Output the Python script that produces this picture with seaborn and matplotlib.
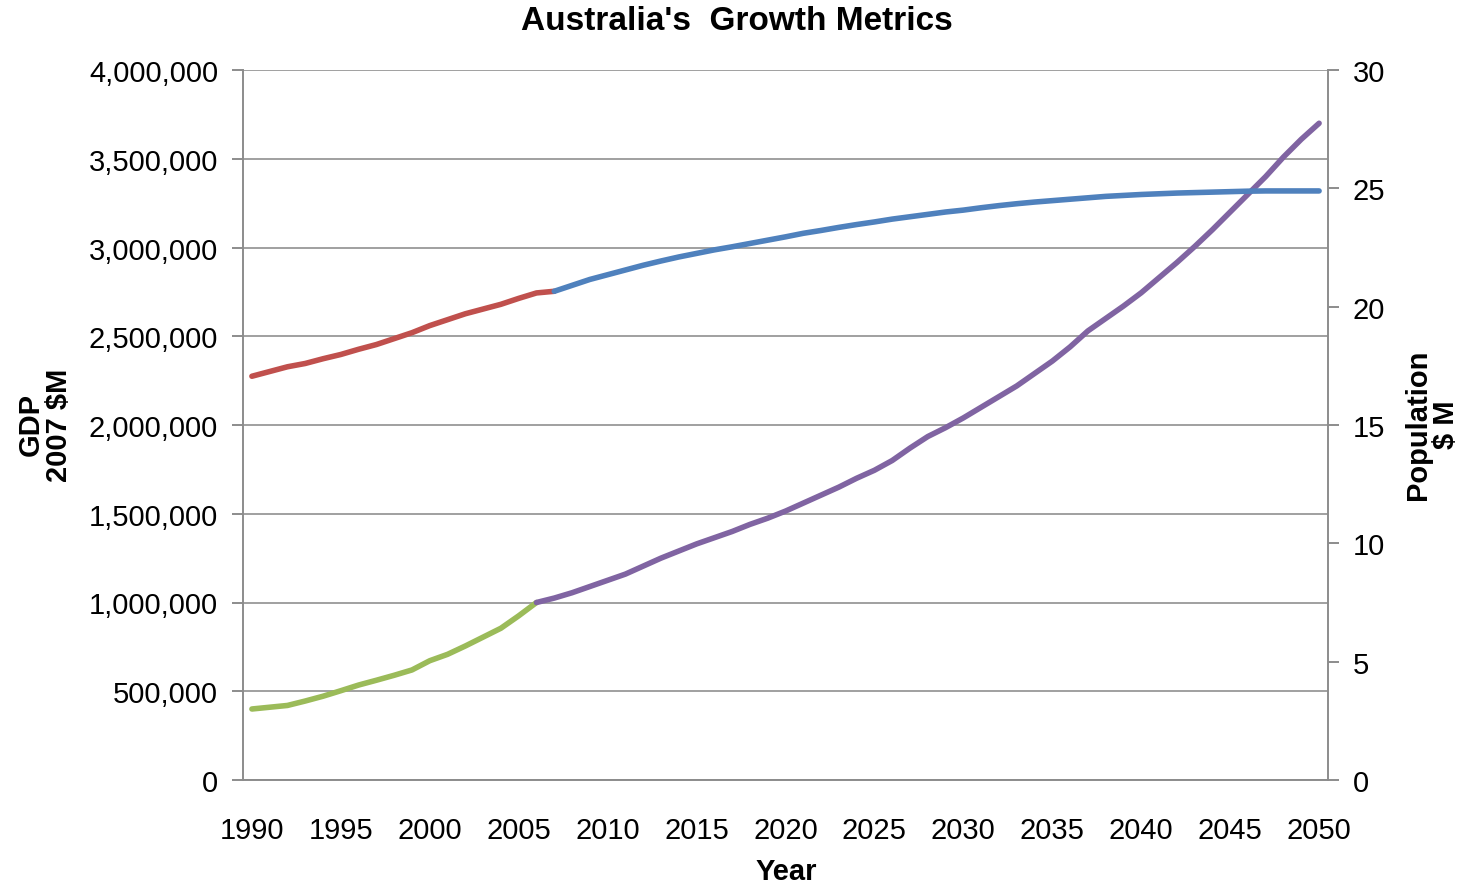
import matplotlib
matplotlib.use("Agg")
import matplotlib.pyplot as plt
import numpy as np
import pandas as pd
import seaborn as sns
from matplotlib.ticker import FixedLocator, FuncFormatter

# ---------------- data ----------------
pop_hist_years = list(range(1990, 2008))
pop_hist = [17.06, 17.26, 17.46, 17.60, 17.80, 17.98, 18.20, 18.40, 18.65,
            18.90, 19.20, 19.45, 19.70, 19.90, 20.10, 20.35, 20.58, 20.65]

pop_proj_years = list(range(2007, 2051))
pop_proj = [20.65, 20.90, 21.15, 21.35, 21.55, 21.75, 21.93, 22.10, 22.25, 22.40,
            22.53, 22.67, 22.81, 22.95, 23.10, 23.22, 23.35, 23.47, 23.58, 23.70,
            23.80, 23.90, 24.00, 24.08, 24.18, 24.27, 24.35, 24.42, 24.48, 24.54,
            24.60, 24.66, 24.70, 24.74, 24.77, 24.80, 24.82, 24.84, 24.86, 24.88,
            24.89, 24.89, 24.89, 24.89]

gdp_hist_years = list(range(1990, 2007))
gdp_hist = [400000, 410000, 420000, 445000, 472000, 503000, 535000, 562000, 590000,
            620000, 672000, 708000, 755000, 805000, 855000, 925000, 1000000]

gdp_proj_years = list(range(2006, 2051))
gdp_proj = [1000000, 1025000, 1055000, 1090000, 1125000, 1160000, 1205000, 1250000,
            1290000, 1330000, 1365000, 1400000, 1440000, 1475000, 1515000, 1560000,
            1605000, 1650000, 1700000, 1745000, 1800000, 1870000, 1935000, 1985000,
            2040000, 2100000, 2160000, 2220000, 2290000, 2360000, 2440000, 2530000,
            2600000, 2670000, 2745000, 2830000, 2915000, 3005000, 3100000, 3200000,
            3300000, 3400000, 3510000, 3610000, 3700000]

year_labels = list(range(1990, 2051, 5))
gdp_ticks = list(range(0, 4000001, 500000))
pop_ticks = list(range(0, 31, 5))

# ---------------- style ----------------
sns.set_theme(style="white")
plt.rcParams["font.family"] = ["Liberation Sans", "DejaVu Sans"]
plt.rcParams["text.color"] = "black"
plt.rcParams["axes.labelcolor"] = "black"
plt.rcParams["xtick.color"] = "black"
plt.rcParams["ytick.color"] = "black"

RED = "#C0504D"
BLUE = "#4F81BD"
GREEN = "#9BBB59"
PURPLE = "#8064A2"
GRID = "#A0A0A0"
AXC = "#8C8C8C"
FS = 21

fig = plt.figure(figsize=(14.68, 8.87), dpi=100)
ax = fig.add_axes([243 / 1468, 1 - 781 / 887, (1328 - 243) / 1468, (781 - 71) / 887])
ax2 = ax.twinx()

df_gh = pd.DataFrame({"Year": gdp_hist_years, "GDP": gdp_hist})
df_gp = pd.DataFrame({"Year": gdp_proj_years, "GDP": gdp_proj})
df_ph = pd.DataFrame({"Year": pop_hist_years, "Pop": pop_hist})
df_pp = pd.DataFrame({"Year": pop_proj_years, "Pop": pop_proj})

lw = 4.0
sns.lineplot(data=df_gh, x="Year", y="GDP", ax=ax, color=GREEN, lw=lw,
             solid_capstyle="round", solid_joinstyle="round", errorbar=None)
sns.lineplot(data=df_gp, x="Year", y="GDP", ax=ax, color=PURPLE, lw=lw,
             solid_capstyle="round", solid_joinstyle="round", errorbar=None)
sns.lineplot(data=df_ph, x="Year", y="Pop", ax=ax2, color=RED, lw=lw,
             solid_capstyle="round", solid_joinstyle="round", errorbar=None)
sns.lineplot(data=df_pp, x="Year", y="Pop", ax=ax2, color=BLUE, lw=lw,
             solid_capstyle="round", solid_joinstyle="round", errorbar=None)

# axes limits
ax.set_xlim(1989.5, 2050.5)
ax.set_ylim(0, 4000000)
ax2.set_ylim(0, 30)

# grid
ax.set_yticks(gdp_ticks)
ax.yaxis.grid(True, color=GRID, lw=1.4)
ax.xaxis.grid(False)
ax2.grid(False)
ax.set_axisbelow(True)

ax.yaxis.set_major_formatter(FuncFormatter(lambda v, p: f"{int(v):,}"))
ax2.set_yticks(pop_ticks)

# x ticks: labels at category centres, tick marks at category boundaries
ax.xaxis.set_major_locator(FixedLocator(year_labels))
ax.xaxis.set_minor_locator(FixedLocator([y - 0.5 for y in year_labels]))
ax.tick_params(axis="x", which="major", length=0, labelsize=FS, pad=26, labelcolor="black")
ax.tick_params(axis="x", which="minor", length=8, width=1.4, color=AXC, direction="out")
ax.tick_params(axis="y", which="major", length=8, width=1.4, color=AXC, labelsize=FS,
               pad=10, labelcolor="black", direction="out")
ax2.tick_params(axis="y", which="major", length=8, width=1.4, color=AXC, labelsize=FS,
                pad=10, labelcolor="black", direction="out")

for a in (ax, ax2):
    for s in a.spines.values():
        s.set_visible(False)
    a.set_xlabel("")
    a.set_ylabel("")
for a, side in ((ax, "left"), (ax, "bottom"), (ax2, "right")):
    a.spines[side].set_visible(True)
    a.spines[side].set_color(AXC)
    a.spines[side].set_linewidth(1.4)

# labels
fig.suptitle("Australia's  Growth Metrics", x=0.502, y=1 - 22 / 887, va="center",
             fontsize=24, fontweight="bold", color="black")
fig.text(786 / 1468, 1 - 872 / 887, "Year", ha="center", va="center",
         fontsize=FS, fontweight="bold", color="black")
fig.text(45 / 1468, 1 - 425 / 887, "GDP\n2007 $M", ha="center", va="center",
         rotation=90, fontsize=FS, fontweight="bold", linespacing=1.0, color="black")
fig.text(1432 / 1468, 1 - 425 / 887, "Population\n$ M", ha="center", va="center",
         rotation=90, fontsize=FS, fontweight="bold", linespacing=1.0, color="black")

fig.savefig("out.png", dpi=100, facecolor="white")
